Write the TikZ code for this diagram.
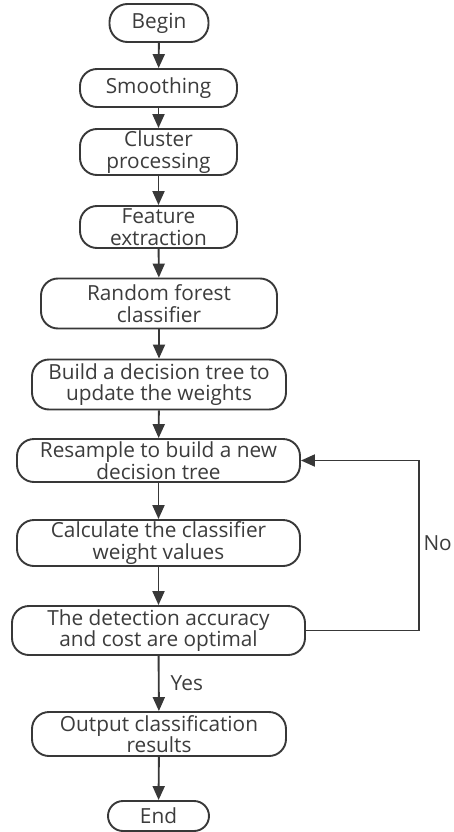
\documentclass[tikz,border=0pt]{standalone}
\usepackage{fontspec}
\setmainfont{Open Sans}
\usetikzlibrary{arrows.meta}
\definecolor{ln}{HTML}{383838}
\definecolor{tx}{HTML}{3C3C3C}
\begin{document}
\begin{tikzpicture}[x=1pt,y=1pt,
  box/.style={draw=ln, line width=1.9pt, rounded corners=17pt, align=center, text=tx,
    font=\fontsize{20.8}{21.5}\selectfont, inner sep=0pt},
  arr/.style={draw=ln, line width=1.9pt, -{Triangle[length=14pt,width=12pt]}},
  lbl/.style={text=tx, font=\fontsize{20.8}{21.5}\selectfont, inner sep=0pt}]
\useasboundingbox (0,0) rectangle (454,-832);
\clip (0,0) rectangle (454,-832);
\fill[white] (0,0) rectangle (454,-832);
\node[box, rounded corners=18pt, minimum width=99pt, minimum height=38pt] (begin) at (159,-23) {Begin};
\node[box, minimum width=157pt, minimum height=38pt] (smooth) at (158.5,-88) {Smoothing};
\node[box, minimum width=157pt, minimum height=46pt] (cluster) at (158.5,-152) {Cluster\\processing};
\node[box, minimum width=157pt, minimum height=42pt] (feature) at (158.5,-227) {Feature\\extraction};
\node[box, minimum width=236pt, minimum height=50pt] (rf) at (159,-303.5) {Random forest\\classifier};
\node[box, minimum width=254pt, minimum height=50pt] (build) at (159,-384.5) {Build a decision tree to\\update the weights};
\node[box, minimum width=283pt, minimum height=43pt] (resample) at (158.5,-460.5) {Resample to build a new\\decision tree};
\node[box, minimum width=283pt, minimum height=46pt] (calc) at (158.5,-543) {Calculate the classifier\\weight values};
\node[box, minimum width=293pt, minimum height=49pt] (detect) at (158.5,-630.5) {The detection accuracy\\and cost are optimal};
\node[box, minimum width=254pt, minimum height=44pt] (output) at (159,-734) {Output classification\\results};
\node[box, rounded corners=15pt, minimum width=101pt, minimum height=30pt] (end) at (158.5,-816) {End};
\coordinate (corner1) at (419,-630.5);
\coordinate (corner2) at (419,-460.5);
\draw[arr] (begin) -- (smooth);
\draw[arr] (smooth) -- (cluster);
\draw[arr] (cluster) -- (feature);
\draw[arr] (feature) -- (rf);
\draw[arr] (rf) -- (build);
\draw[arr] (build) -- (resample);
\draw[arr] (resample) -- (calc);
\draw[arr] (calc) -- (detect);
\draw[arr] (detect) -- node[lbl, right=11pt] (yes) {Yes} (output);
\draw[arr] (output) -- (end);
\draw[arr] (detect.east) -- (corner1) -- (corner2) -- (resample.east);
\node[lbl, anchor=east] (no) at (452,-543) {No};
\end{tikzpicture}
\end{document}
